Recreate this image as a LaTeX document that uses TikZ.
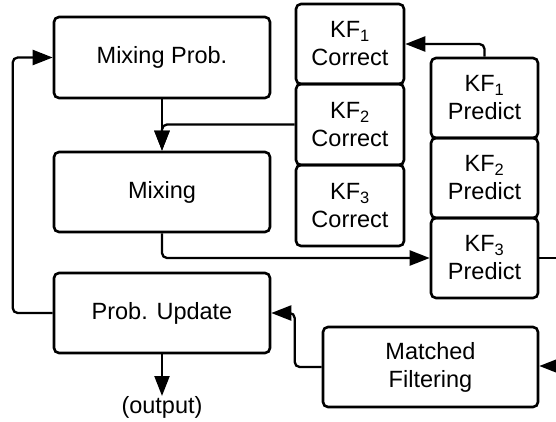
\documentclass[tikz,border=0pt]{standalone}
\usepackage{fontspec}
\setmainfont{Liberation Sans}
\usetikzlibrary{arrows.meta}
\begin{document}
\begin{tikzpicture}[x=1pt,y=-1pt,
  txt/.style={font=\fontsize{23.5}{28}\selectfont},
  box/.style={txt, draw, line width=2.6pt, rounded corners=5pt, inner sep=0pt, align=center},
  conn/.style={line width=2.3pt, rounded corners=5pt, -{Triangle[length=20pt,width=15pt]}},
  plain/.style={line width=2.3pt, rounded corners=5pt}]
\useasboundingbox (0,0) rectangle (556,421);
% left column
\node[box, minimum width=216pt, minimum height=81pt] (mp) at (162,57.5) {Mixing Prob.};
\node[box, minimum width=216pt, minimum height=80pt] (mx) at (162,192) {Mixing};
\node[box, minimum width=216pt, minimum height=80pt] (pu) at (162,313) {Prob. Update};
% correct column
\node[box, minimum width=108pt, minimum height=80pt] (kf1c) at (350,44) {KF\textsubscript{1}\\Correct};
\node[box, minimum width=108pt, minimum height=81pt] (kf2c) at (350,124.5) {KF\textsubscript{2}\\Correct};
\node[box, minimum width=108pt, minimum height=81pt] (kf3c) at (350,205.5) {KF\textsubscript{3}\\Correct};
% predict column
\node[box, minimum width=107pt, minimum height=80pt] (kf1p) at (484.5,98) {KF\textsubscript{1}\\Predict};
\node[box, minimum width=107pt, minimum height=80pt] (kf2p) at (484.5,178) {KF\textsubscript{2}\\Predict};
\node[box, minimum width=107pt, minimum height=80pt] (kf3p) at (484.5,258) {KF\textsubscript{3}\\Predict};
% matched filtering
\node[box, minimum width=215pt, minimum height=80pt] (mf) at (430.5,367) {Matched\\Filtering};
% output
\node[txt, inner sep=0pt, anchor=north] (out) at (162,396) {(output)};
% free ends
\coordinate (re1) at (556,258);
\coordinate (re2) at (556,366);
% connectors
\draw[conn] (mp) -- (mx);
\draw[conn] (kf2c.west) -| (mx.north);
\draw[conn] (kf1p.north) |- (kf1c.east);
\draw[conn] (mx.south) |- (kf3p.west);
\draw[plain] (kf3p.east) -- (re1);
\draw[conn] (re2) -- (re2 -| mf.east);
\draw[conn] (mf.west) -- ++(-27,0) |- (pu.east);
\draw[conn] (pu.west) -- ++(-40,0) |- (mp.west);
\draw[conn] (pu.south) -- (out.north);
\end{tikzpicture}
\end{document}
